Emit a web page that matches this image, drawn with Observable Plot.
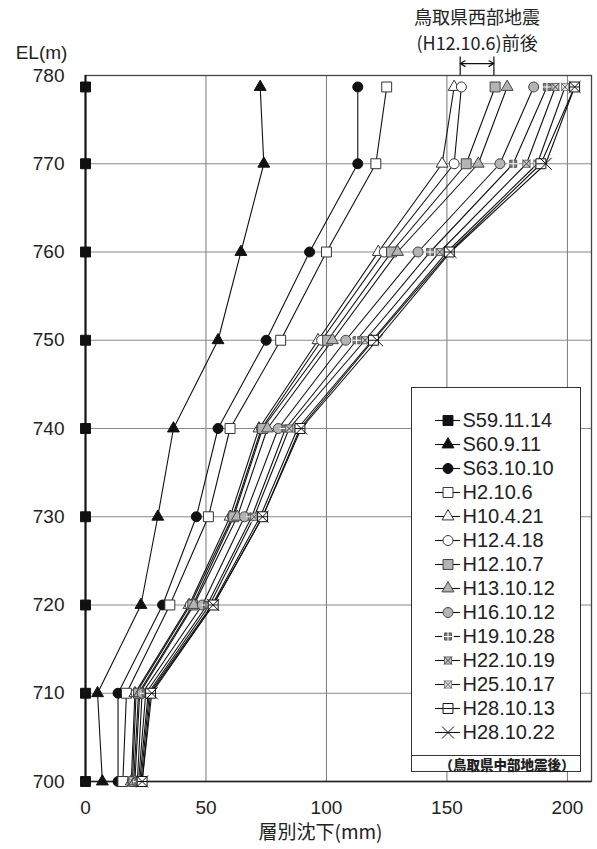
<!DOCTYPE html>
<html><head><meta charset="utf-8">
<script src="https://cdn.jsdelivr.net/npm/d3@7"></script>
<script src="https://cdn.jsdelivr.net/npm/@observablehq/plot@0.6"></script>
<style>
body{margin:0;background:#fff;}
#wrap{position:relative;width:597px;height:849px;font-family:"Liberation Sans","Noto Sans CJK JP",sans-serif;color:#222;}
#legend{position:absolute;left:411px;top:387px;width:170px;height:385px;border:1px solid #333;background:#fff;box-sizing:border-box;}
#legend svg{display:block;}
#note{border-top:1px solid #333;height:16px;line-height:16px;font-family:"Noto Sans CJK JP",sans-serif;font-weight:900;font-size:13.5px;text-align:center;padding-left:22px;}
</style></head><body><div id="wrap"></div>
<script>
// elevation of each measurement level (m)
const elevations = [778.7, 770, 760, 750, 740, 730, 720, 710, 700];
const yTicks = [700, 710, 720, 730, 740, 750, 760, 770, 780];
const xTicks = [0, 50, 100, 150, 200];
const gridXValues = [50, 100, 150, 200];
const gridYValues = [710, 720, 730, 740, 750, 760, 770];

const seriesNames = ["S59.11.14","S60.9.11","S63.10.10","H2.10.6","H10.4.21","H12.4.18","H12.10.7","H13.10.12","H16.10.12","H19.10.28","H22.10.19","H25.10.17","H28.10.13","H28.10.22"];
// settlement (mm), top level to bottom level
const S59_11_14 = [0, 0, 0, 0, 0, 0, 0, 0, 0];
const S60_9_11  = [72.5, 74, 64.5, 55, 36.5, 30, 23, 5, 7];
const S63_10_10 = [113, 113, 93, 75, 55, 46, 32, 13.5, 13.5];
const H2_10_6   = [125, 120.5, 100, 81, 60, 51, 35, 17, 15.5];
const H10_4_21  = [153, 148, 121.5, 96.5, 72, 60, 43, 20.5, 19];
const H12_4_18  = [156, 153, 124, 98, 73, 61, 43.5, 21, 19.5];
const H12_10_7  = [170, 158, 127, 100.5, 73.5, 61.5, 44.5, 22, 20];
const H13_10_12 = [175, 163, 129.5, 102.5, 75.5, 63, 45, 22.5, 20.5];
const H16_10_12 = [186, 172, 138, 108, 80, 66, 48.5, 23.5, 21.5];
const H19_10_28 = [191.5, 177.5, 143, 112.5, 83, 69, 50.5, 25, 22];
const H22_10_19 = [195, 183, 147, 116, 84.5, 70, 51.5, 26, 22.5];
const H25_10_17 = [199, 187.5, 150, 119, 88, 72.5, 52.5, 26.5, 23];
const H28_10_13 = [203, 189, 151, 119.5, 89, 73.5, 53, 27, 23.5];
const H28_10_22 = [203, 191, 151.5, 121, 89.5, 73.5, 53, 27.5, 23.5];
const seriesValues = [S59_11_14,S60_9_11,S63_10_10,H2_10_6,H10_4_21,H12_4_18,H12_10_7,H13_10_12,H16_10_12,H19_10_28,H22_10_19,H25_10_17,H28_10_13,H28_10_22];

const quakeRange = [155.5, 169.5]; // 鳥取県西部地震 before/after
const titleLines = ["鳥取県西部地震", "(H12.10.6)前後"];
const xTitle = "層別沈下(mm)";
const yTitle = "EL(m)";
const noteText = "（鳥取県中部地震後）";

const hline = {draw(ctx, size){ const s = Math.sqrt(size)/2; ctx.moveTo(-s,0); ctx.lineTo(s,0); }};
// marker styles
const styles = [
  {symbol:"square",  fill:"#111", stroke:"#111", r:5.6},
  {symbol:"triangle",fill:"#111", stroke:"#111", r:4.4},
  {symbol:"circle",  fill:"#111", stroke:"#111", r:5},
  {symbol:"square",  fill:"#fff", stroke:"#333", r:5.6},
  {symbol:"triangle",fill:"#fff", stroke:"#333", r:4.4},
  {symbol:"circle",  fill:"#fff", stroke:"#333", r:5},
  {symbol:"square",  fill:"#b4b4b4", stroke:"#444", r:5.6},
  {symbol:"triangle",fill:"#b4b4b4", stroke:"#444", r:4.4},
  {symbol:"circle",  fill:"#b4b4b4", stroke:"#444", r:5},
  {symbol:"square",  fill:"#7a7a7a", stroke:"#555", r:4, over:"plus", overStroke:"#fff"},
  {symbol:"square",  fill:"#c8c8c8", stroke:"#666", r:4, over:"times", overStroke:"#444"},
  {symbol:"square",  fill:"#e0e0e0", stroke:"#888", r:4, over:"times", overStroke:"#666"},
  {symbol:"square",  fill:"#fff", stroke:"#111", r:5.6, over:hline, overStroke:"#111"},
  {symbol:"times",   fill:"none", stroke:"#111", r:5.5}
];

const rows = [];
seriesNames.forEach((name, k) => seriesValues[k].forEach((v, i) => rows.push({name, k, x: v, y: elevations[i]})));

function markerMarks(data, xAcc, yAcc) {
  const out = [];
  styles.forEach((st, k) => {
    const d = data.filter(r => r.k === k);
    out.push(Plot.dot(d, {x: xAcc, y: yAcc, symbol: () => st.symbol, r: st.r, fill: st.fill, stroke: st.stroke, strokeWidth: 1}));
    if (st.over) out.push(Plot.dot(d, {x: xAcc, y: yAcc, symbol: () => st.over, r: st.r*0.95, fill: "none", stroke: st.overStroke, strokeWidth: 1}));
  });
  return out;
}

const cjk = '"Noto Sans CJK JP",sans-serif';
const mid = d3.mean(quakeRange);
const chart = Plot.plot({
  width: 597, height: 849,
  marginLeft: 85, marginRight: 6, marginTop: 75, marginBottom: 68,
  style: {fontFamily: '"Liberation Sans","Noto Sans CJK JP",sans-serif', background: "#fff", color: "#222"},
  x: {domain: [0, 210]},
  y: {domain: [700, 780]},
  symbol: {type: "identity"},
  marks: [
    Plot.gridX(gridXValues, {stroke: "#777", strokeOpacity: 1}),
    Plot.gridY(gridYValues, {stroke: "#8a8a8a", strokeOpacity: 1}),
    Plot.frame({stroke: "#444", strokeWidth: 1.3}),
    Plot.ruleY([700], {stroke: "#222", strokeWidth: 1.5}),
    Plot.ruleX([0], {stroke: "#111", strokeWidth: 2}),
    Plot.axisX(xTicks, {tickSize: 0, tickPadding: 19, fontSize: 19, label: null}),
    Plot.axisY(yTicks, {tickSize: 0, tickPadding: 21, fontSize: 19, label: null}),
    Plot.line(rows, {x: "x", y: "y", z: "name", stroke: "#111", strokeWidth: 1.1}),
    ...markerMarks(rows, "x", "y"),
    Plot.text([yTitle], {frameAnchor: "top-left", textAnchor: "middle", lineAnchor: "middle", dx: -44, dy: -23, fontSize: 19, text: d => d}),
    Plot.text([xTitle], {frameAnchor: "bottom", textAnchor: "middle", lineAnchor: "middle", dx: -18, dy: 51, fontSize: 19, text: d => d, fontFamily: cjk}),
    Plot.text([titleLines[0]], {x: mid, frameAnchor: "top", lineAnchor: "middle", dy: -57, fontSize: 18, text: d => d, fontFamily: cjk}),
    Plot.text([titleLines[1]], {x: mid, frameAnchor: "top", lineAnchor: "middle", dy: -31, fontSize: 18, text: d => d, fontFamily: cjk}),
    Plot.ruleX(quakeRange, {y1: 780, y2: 782.1, stroke: "#111", strokeWidth: 1.2}),
    Plot.arrow(quakeRange, {x1: mid, x2: d => d, y1: 781.35, y2: 781.35, stroke: "#111", strokeWidth: 1.2, headLength: 7})
  ]
});

const wrap = document.getElementById("wrap");
wrap.appendChild(chart);

// legend
const legendRows = seriesNames.map((name, k) => ({name, k}));
const legendPlot = Plot.plot({
  width: 168, height: 367, margin: 0,
  x: {domain: [0, 1], range: [23, 48], axis: null},
  y: {type: "point", domain: seriesNames, range: [16, 360], axis: null},
  symbol: {type: "identity"},
  style: {fontFamily: '"Liberation Sans",sans-serif', background: "#fff", color: "#222", overflow: "visible"},
  marks: [
    Plot.ruleY(legendRows, {y: "name", x1: 0, x2: 1, stroke: "#111", strokeWidth: 1.1}),
    ...markerMarks(legendRows, () => 0.5, "name"),
    Plot.text(legendRows, {x: 1, y: "name", text: "name", textAnchor: "start", dx: 2, fontSize: 20, fill: "#222"})
  ]
});
const legend = document.createElement("div");
legend.id = "legend";
legend.appendChild(legendPlot);
const note = document.createElement("div");
note.id = "note";
note.textContent = noteText;
legend.appendChild(note);
wrap.appendChild(legend);
</script></body></html>
